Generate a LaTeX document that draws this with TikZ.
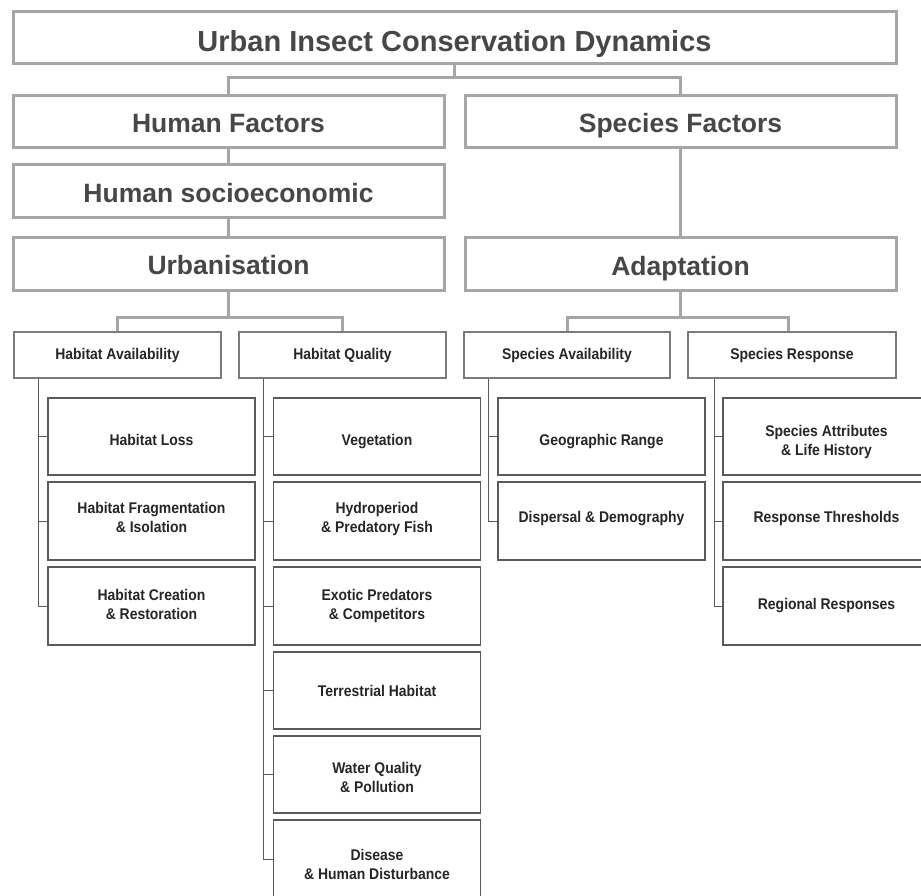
\documentclass[tikz,border=0pt]{standalone}
\usepackage{fontspec}
\setmainfont{Liberation Sans}
\newfontfamily\narrowsans{Liberation Sans}[FakeStretch=0.9]
\usetikzlibrary{calc}
\definecolor{trunkgray}{HTML}{A6A6A6}
\definecolor{headtext}{HTML}{474747}
\definecolor{leafline}{HTML}{5A5A5A}
\definecolor{leaftext}{HTML}{262626}
% label text: first line's cap centre sits on the node centre, shifted down by #1
\newcommand{\boxtext}[2]{\raisebox{-#1}{\begin{tabular}[t]{@{}c@{}}#2\end{tabular}}}
\tikzset{
  headbox/.style={draw=trunkgray, line width=3pt, fill=white, inner sep=0pt,
    text=headtext, font=\bfseries\fontsize{26.5}{30}\selectfont,
    text height=19pt, text depth=0pt},
  groupbox/.style={draw=leafline!80, line width=1.3pt, fill=white, inner sep=0pt,
    minimum width=207pt, minimum height=46pt, text=leaftext,
    font=\narrowsans\bfseries\fontsize{15.5}{19}\selectfont,
    text height=11.1pt, text depth=0pt},
  leafbox/.style={draw=leafline, line width=1.2pt, fill=white, inner sep=0pt,
    minimum width=207pt, text=leaftext,
    font=\narrowsans\bfseries\fontsize{15.5}{19}\selectfont,
    text height=11.1pt, text depth=0pt},
  trunk/.style={draw=trunkgray, line width=3pt},
  branch/.style={draw=leafline, line width=1pt},
}
\begin{document}
\begin{tikzpicture}[x=1pt, y=-1pt]
\useasboundingbox (0,0) rectangle (921,895);
\clip (0,0) rectangle (921,895);

% upper levels
\node[headbox, minimum width=883pt, minimum height=52pt,
      font=\bfseries\fontsize{29}{32}\selectfont, text height=20.8pt] (top) at (454.5,37)
      {\boxtext{4.5pt}{Urban Insect Conservation Dynamics}};
\node[headbox, minimum width=431pt, minimum height=52pt] (hf) at (228.5,121) {\boxtext{1.5pt}{Human Factors}};
\node[headbox, minimum width=431pt, minimum height=52pt] (sf) at (680.5,121.5) {\boxtext{1pt}{Species Factors}};
\node[headbox, minimum width=431pt, minimum height=53pt] (hs) at (228.5,191) {\boxtext{1.5pt}{Human socioeconomic}};
\node[headbox, minimum width=431pt, minimum height=53pt] (urb) at (228.5,263.5) {\boxtext{1.5pt}{Urbanisation}};
\node[headbox, minimum width=431pt, minimum height=53pt] (ada) at (680.5,263.5) {\boxtext{2.5pt}{Adaptation}};

% group boxes
\node[groupbox] (ha) at (117.5,355) {\boxtext{-1.5pt}{Habitat Availability}};
\node[groupbox] (hq) at (342.5,355) {\boxtext{-1.5pt}{Habitat Quality}};
\node[groupbox, minimum width=206pt] (sa) at (567,355) {\boxtext{-1.5pt}{Species Availability}};
\node[groupbox, minimum width=208pt] (sr) at (792,355) {\boxtext{-1.5pt}{Species Response}};

% leaves: habitat availability
\node[leafbox, minimum height=77pt] (a1) at (151.5,436.5) {\boxtext{3pt}{Habitat Loss}};
\node[leafbox, minimum height=78pt] (a2) at (151.5,521) {\boxtext{-13.5pt}{Habitat Fragmentation\\\& Isolation}};
\node[leafbox, minimum height=78pt] (a3) at (151.5,606) {\boxtext{-11.5pt}{Habitat Creation\\\& Restoration}};

% leaves: habitat quality
\node[leafbox, minimum height=77pt] (b1) at (377,436.5) {\boxtext{3.5pt}{Vegetation}};
\node[leafbox, minimum height=78pt] (b2) at (377,521) {\boxtext{-13.5pt}{Hydroperiod\\\& Predatory Fish}};
\node[leafbox, minimum height=78pt] (b3) at (377,606) {\boxtext{-11.5pt}{Exotic Predators\\\& Competitors}};
\node[leafbox, minimum height=77pt] (b4) at (377,690.5) {\boxtext{0pt}{Terrestrial Habitat}};
\node[leafbox, minimum height=77pt] (b5) at (377,774.5) {\boxtext{-7pt}{Water Quality\\\& Pollution}};
\node[leafbox, minimum height=78pt] (b6) at (377,859) {\boxtext{-4pt}{Disease\\\& Human Disturbance}};

% leaves: species availability
\node[leafbox, minimum height=77pt] (c1) at (601.5,436.5) {\boxtext{3.5pt}{Geographic Range}};
\node[leafbox, minimum height=78pt] (c2) at (601.5,521) {\boxtext{-4pt}{Dispersal \& Demography}};

% leaves: species response
\node[leafbox, minimum height=77pt] (d1) at (826.5,436.5) {\boxtext{-6pt}{Species Attributes\\\& Life History}};
\node[leafbox, minimum height=78pt] (d2) at (826.5,521) {\boxtext{-4pt}{Response Thresholds}};
\node[leafbox, minimum height=78pt] (d3) at (826.5,606) {\boxtext{-2pt}{Regional Responses}};

% trunk connectors
\coordinate (j0) at ($(top.south)+(0,13)$);
\draw[trunk] (top.south) -- (j0) -| (hf.north);
\draw[trunk] (j0) -| (sf.north);
\draw[trunk] (hf.south) -- (hs.north);
\draw[trunk] (hs.south) -- (urb.north);
\draw[trunk] (sf.south) -- (ada.north);
\coordinate (j1) at ($(urb.south)+(0,26)$);
\draw[trunk] (urb.south) -- (j1) -| (ha.north);
\draw[trunk] (j1) -| (hq.north);
\coordinate (j2) at ($(ada.south)+(0,26)$);
\draw[trunk] (ada.south) -- (j2) -| (sa.north);
\draw[trunk] (j2) -| ($(sr.north)+(-4,0)$);

% branch connectors
\coordinate (ba) at ($(ha.south west)+(25,0)$);
\coordinate (bb) at ($(hq.south west)+(25,0)$);
\coordinate (bc) at ($(sa.south west)+(25,0)$);
\coordinate (bd) at ($(sr.south west)+(27,0)$);
\foreach \n in {a1,a2,a3} \draw[branch] (ba) |- (\n.west);
\foreach \n in {b1,b2,b3,b4,b5,b6} \draw[branch] (bb) |- (\n.west);
\foreach \n in {c1,c2} \draw[branch] (bc) |- (\n.west);
\foreach \n in {d1,d2,d3} \draw[branch] (bd) |- (\n.west);
\end{tikzpicture}
\end{document}
